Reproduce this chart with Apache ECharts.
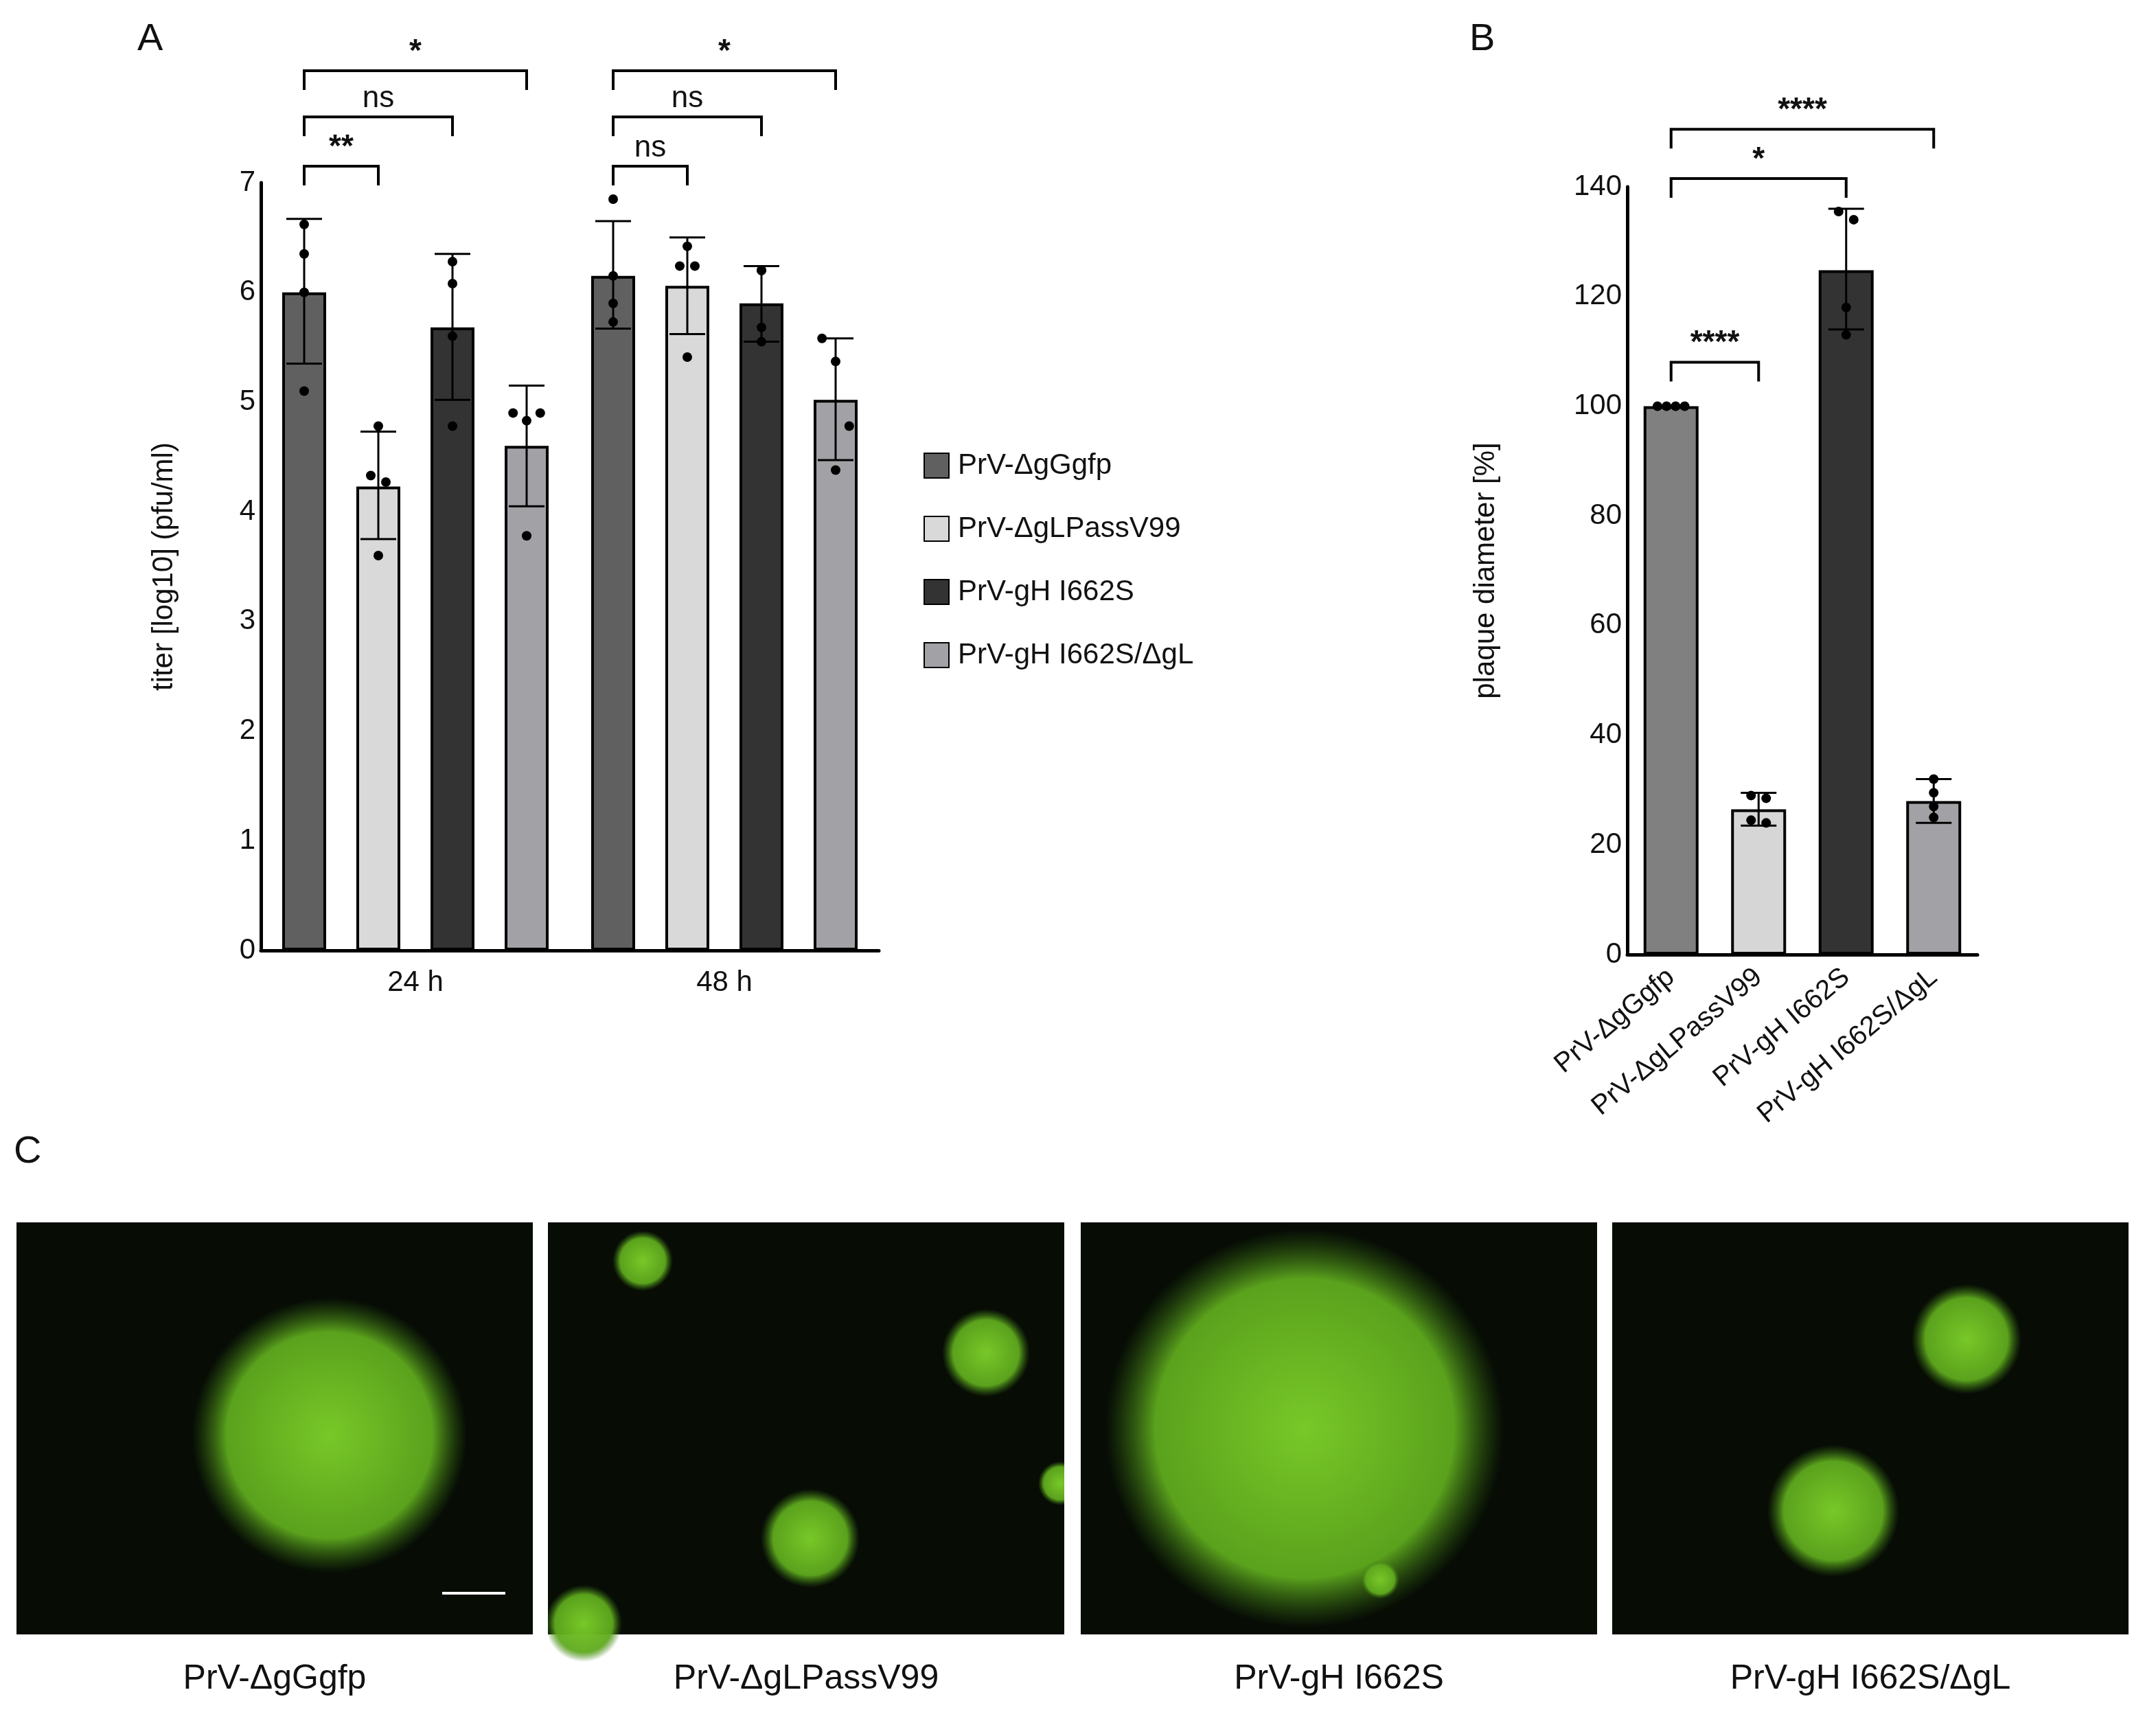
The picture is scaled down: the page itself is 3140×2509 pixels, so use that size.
<!DOCTYPE html>
<html><head><meta charset="utf-8">
<script src="https://cdn.jsdelivr.net/npm/echarts@6/dist/echarts.min.js"></script>
<style>html,body{margin:0;padding:0;background:#fff}#c{width:3140px;height:2509px}</style>
</head><body><div id="c"></div>
<script>
const strains = ['PrV-ΔgGgfp','PrV-ΔgLPassV99','PrV-gH I662S','PrV-gH I662S/ΔgL'];
const timepoints = ['24 h','48 h'];
const colorsA = ['#606060','#d9d9d9','#333333','#a2a2a6'];
const colorsB = ['#808080','#d6d6d6','#333333','#a2a2a6'];
// Panel A: mean, error low, error high, points  [strain][time]
const titerMean = [[6.0,6.15],[4.23,6.06],[5.68,5.9],[4.6,5.02]];
const titerLow  = [[5.35,5.67],[3.75,5.62],[5.02,5.55],[4.05,4.47]];
const titerHigh = [[6.67,6.65],[4.73,6.5],[6.35,6.24],[5.15,5.58]];
const titerPts  = [
  [[6.62,6.35,6.0,5.1],[6.85,6.15,5.9,5.73]],
  [[4.78,4.33,4.27,3.6],[6.42,6.24,6.24,5.41]],
  [[6.28,6.08,5.6,4.78],[6.2,6.2,5.68,5.55]],
  [[4.9,4.83,4.9,3.78],[5.58,5.37,4.78,4.38]]
];
const jitter = [[0,0,0,0],[0,-0.5,0.5,0],[0,0,0,0],[-0.9,0,0.9,0]];
// Panel B
const plaqueMean = [100,26.5,124.8,28];
const plaqueLow  = [100,23.5,114,24];
const plaqueHigh = [100,29.5,136,32];
const plaquePts  = [[100,100,100,100],[29,28.5,24.5,24],[135.5,134,118,113],[32,29.5,27,25]];
const jitterB = [[-0.9,-0.3,0.3,0.9],[-0.5,0.5,-0.5,0.5],[-0.5,0.5,0,0],[0,0,0,0]];
const bracketsA = [[0,0,1,7.15,'**'],[0,0,2,7.6,'ns'],[0,0,3,8.02,'*'],[1,0,1,7.15,'ns'],[1,0,2,7.6,'ns'],[1,0,3,8.02,'*']];
const bracketsB = [[0,1,108,'****'],[0,2,141.5,'*'],[0,3,150.5,'****']];

const F = 'Liberation Sans, Arial, sans-serif';
const BW = 64, STEP = 108, BWB = 80;
const chart = echarts.init(document.getElementById('c'));

function errItem(cx, api, lo, hi, mean, pts, jit, cap, r){
  const ch = [];
  const yl = api.coord([0,lo])[1], yh = api.coord([0,hi])[1];
  ch.push({type:'line',shape:{x1:cx,y1:yl,x2:cx,y2:yh},style:{stroke:'#000',lineWidth:3}});
  ch.push({type:'line',shape:{x1:cx-cap,y1:yl,x2:cx+cap,y2:yl},style:{stroke:'#000',lineWidth:3}});
  ch.push({type:'line',shape:{x1:cx-cap,y1:yh,x2:cx+cap,y2:yh},style:{stroke:'#000',lineWidth:3}});
  pts.forEach((p,k)=>{ch.push({type:'circle',shape:{cx:cx+jit[k]*22,cy:api.coord([0,p])[1],r:r},style:{fill:'#000'}});});
  return {type:'group',children:ch};
}

const series = [];
strains.forEach((s,i)=>{
  series.push({name:s,type:'bar',xAxisIndex:0,yAxisIndex:0,barWidth:BW,barGap:'68.75%',
    data:titerMean[i],itemStyle:{color:colorsA[i],borderColor:'#000',borderWidth:4}});
});
strains.forEach((s,i)=>{
  series.push({type:'custom',xAxisIndex:0,yAxisIndex:0,z:5,silent:true,
    data:timepoints.map((t,j)=>[j,titerMean[i][j]]),
    renderItem:(params,api)=>{
      const j = api.value(0);
      const cx = api.coord([j,0])[0] + (i-1.5)*STEP;
      return errItem(cx, api, titerLow[i][j], titerHigh[i][j], titerMean[i][j], titerPts[i][j], jitter[i], 26, 7);
    }});
});
series.push({type:'bar',xAxisIndex:1,yAxisIndex:1,barWidth:BWB,
  data:plaqueMean.map((v,i)=>({value:v,itemStyle:{color:colorsB[i],borderColor:'#000',borderWidth:4}}))});
series.push({type:'custom',xAxisIndex:1,yAxisIndex:1,z:5,silent:true,
  data:plaqueMean.map((v,i)=>[i,v]),
  renderItem:(params,api)=>{
    const i = api.value(0);
    const cx = api.coord([i,0])[0];
    return errItem(cx, api, plaqueLow[i], plaqueHigh[i], plaqueMean[i], plaquePts[i], jitterB[i], 26, 7);
  }});

const axisBase = {axisLine:{lineStyle:{color:'#000',width:5}},axisTick:{lineStyle:{color:'#000',width:5},length:14},
  axisLabel:{color:'#111',fontSize:42,fontFamily:F},splitLine:{show:false}};

chart.setOption({
  animation:false,
  backgroundColor:'#fff',
  grid:[{left:380,width:900,top:266,height:1118},{left:2370,width:510,top:272,height:1118}],
  legend:{orient:'vertical',left:1340,top:652,itemWidth:36,itemHeight:36,itemGap:50,icon:'rect',
    data:strains,textStyle:{fontSize:42,fontFamily:F,color:'#111',padding:[0,0,0,8]}},
  xAxis:[
    Object.assign({},axisBase,{type:'category',gridIndex:0,data:timepoints,axisTick:{alignWithLabel:true,length:16,lineStyle:{color:'#000',width:5}},axisLabel:{color:'#111',fontSize:42,fontFamily:F,margin:26}}),
    Object.assign({},axisBase,{type:'category',gridIndex:1,data:strains,axisTick:{alignWithLabel:true,length:16,lineStyle:{color:'#000',width:5}},axisLabel:{color:'#111',fontSize:40,fontFamily:F,rotate:40,margin:28,interval:0}})
  ],
  yAxis:[
    Object.assign({},axisBase,{type:'value',gridIndex:0,min:0,max:7,interval:1,axisLine:{show:true,lineStyle:{color:'#000',width:5}},
      name:'titer [log10] (pfu/ml)',nameLocation:'middle',nameGap:120,nameTextStyle:{fontSize:42,fontFamily:F,color:'#111'}}),
    Object.assign({},axisBase,{type:'value',gridIndex:1,min:0,max:140,interval:20,axisLine:{show:true,lineStyle:{color:'#000',width:5}},
      name:'plaque diameter [%]',nameLocation:'middle',nameGap:185,nameTextStyle:{fontSize:42,fontFamily:F,color:'#111'}})
  ],
  series:series
});

// significance brackets & panel C decorations
const g = [];
function bracket(x1,x2,y,label){
  g.push({type:'polyline',shape:{points:[[x1,y+28],[x1,y],[x2,y],[x2,y+28]]},style:{stroke:'#000',lineWidth:4,fill:null}});
  g.push({type:'text',x:(x1+x2)/2,y:y-4,style:{text:label,font:(label==='ns'?'44px ':'bold 46px ')+F,fill:'#111',textAlign:'center',textVerticalAlign:'bottom'}});
}
bracketsA.forEach(b=>{
  const c = chart.convertToPixel({xAxisIndex:0},b[0]);
  const y = chart.convertToPixel({yAxisIndex:0},b[3]);
  bracket(c+(b[1]-1.5)*STEP, c+(b[2]-1.5)*STEP, y, b[4]);
});
bracketsB.forEach(b=>{
  const x1 = chart.convertToPixel({xAxisIndex:1},b[0]);
  const x2 = chart.convertToPixel({xAxisIndex:1},b[1]);
  const y = chart.convertToPixel({yAxisIndex:1},b[2]);
  bracket(x1,x2,y,b[3]);
});
[['A',200,30],['B',2140,30],['C',20,1650]].forEach(p=>{
  g.push({type:'text',x:p[1],y:p[2],style:{text:p[0],font:'56px '+F,fill:'#111'}});
});
const panelX = [24,798,1574,2348];
const blobs = [
  [[240,1045,100]],
  [[468,918,22],[718,985,32],[590,1120,36],[425,1182,28],[772,1080,16]],
  [[950,1040,145],[1005,1150,14]],
  [[1432,975,40],[1335,1100,48]]
];
panelX.forEach((x,i)=>{
  g.push({type:'rect',shape:{x:x,y:1780,width:752,height:600},style:{fill:'#070d05'},
    });
  blobs[i].forEach(b=>{
    g.push({type:'circle',shape:{cx:b[0]*2,cy:b[1]*2,r:b[2]*2},style:{fill:new echarts.graphic.RadialGradient(0.5,0.5,0.5,[
      {offset:0,color:'rgba(120,200,40,1)'},{offset:0.75,color:'rgba(95,170,30,0.95)'},{offset:1,color:'rgba(60,120,20,0)'}])}});
  });
  g.push({type:'text',x:x+376,y:2445,style:{text:strains[i],font:'50px '+F,fill:'#111',textAlign:'center',textVerticalAlign:'middle'}});
});
// clip blobs to panels by overlaying white gaps
[[776,798],[1550,1574],[2326,2348],[3100,3140]].forEach(r=>{
  g.push({type:'rect',shape:{x:r[0],y:1770,width:r[1]-r[0],height:620},style:{fill:'#fff'}});
});
g.push({type:'line',shape:{x1:644,y1:2320,x2:736,y2:2320},style:{stroke:'#fff',lineWidth:4}});
chart.setOption({graphic:g});
</script></body></html>
